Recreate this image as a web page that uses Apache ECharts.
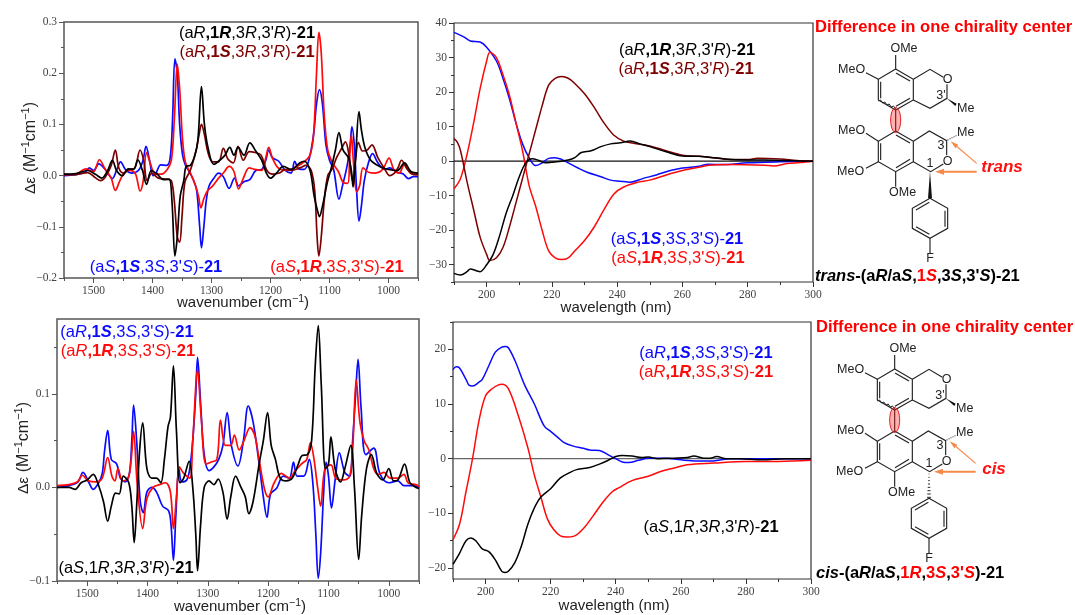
<!DOCTYPE html>
<html>
<head>
<meta charset="utf-8">
<script src="https://cdn.jsdelivr.net/npm/echarts@6/dist/echarts.min.js"></script>
<style>html,body{margin:0;padding:0;background:#fff}#c{width:1075px;height:615px}</style>
</head>
<body>
<div id="c"></div>
<script>
// ---------- VCD top panel ----------
const vcdTopBlue=[[1550,0],[1530,.002],[1515,.006],[1507,.015],[1500,.01],[1491,.023],[1480,.012],[1473,.0],[1468,-.006],[1461,.01],[1454,.027],[1446,.012],[1436,.005],[1424,.01],[1416,.03],[1411,.057],[1405,.03],[1399,.0],[1395,.002],[1386,.021],[1376,.02],[1370,.035],[1366,.11],[1362,.228],[1358,.2],[1354,.1],[1349,.04],[1344,.02],[1338,.008],[1330,-.01],[1325,-.03],[1320,-.1],[1317,-.141],[1313,-.1],[1309,-.05],[1304,-.02],[1296,-.005],[1288,.005],[1280,-.002],[1270,-.025],[1261,-.005],[1254,-.02],[1245,-.012],[1235,-.008],[1225,.01],[1215,.012],[1208,.03],[1203,.05],[1197,.035],[1186,.028],[1175,.01],[1165,.005],[1159,.028],[1152,.013],[1143,.012],[1135,.03],[1127,.08],[1122,.14],[1117,.168],[1112,.14],[1106,.06],[1100,.03],[1093,.012],[1084,-.046],[1078,-.02],[1070,.02],[1065,.06],[1062,.095],[1058,.06],[1054,-.03],[1050,-.089],[1046,-.06],[1041,-.01],[1034,.025],[1027,.043],[1018,.025],[1006,.012],[998,.015],[986,.007],[975,.003],[966,-.006],[958,-.002],[950,-.002]];
const vcdTopRed=[[1550,.002],[1530,.003],[1513,.013],[1500,.008],[1490,.031],[1480,.012],[1470,-.005],[1463,-.029],[1456,-.012],[1448,.006],[1438,.01],[1429,.004],[1421,-.03],[1416,-.012],[1410,.045],[1404,.025],[1396,.004],[1385,.003],[1375,.012],[1368,.03],[1363,.11],[1358,.218],[1354,.17],[1349,.07],[1344,.025],[1335,.003],[1327,-.02],[1322,-.04],[1318,-.063],[1313,-.045],[1307,-.03],[1298,-.02],[1288,-.005],[1280,.005],[1270,.018],[1262,.008],[1254,-.026],[1246,-.005],[1236,.015],[1226,.012],[1215,.01],[1208,.035],[1203,.055],[1197,.035],[1187,.015],[1172,.01],[1155,.018],[1142,.028],[1133,.04],[1127,.08],[1122,.2],[1118,.28],[1114,.24],[1109,.12],[1103,.05],[1095,.025],[1085,.008],[1076,-.014],[1069,-.015],[1066,.03],[1063,.08],[1059,.02],[1054,-.032],[1049,-.02],[1043,.015],[1033,.006],[1022,.005],[1010,.012],[999,.034],[991,.012],[982,.005],[973,.022],[963,.005],[950,.002]];
const vcdTopDark=[[1550,.002],[1530,.002],[1510,.006],[1497,-.004],[1488,-.01],[1480,-.003],[1470,.02],[1463,.05],[1457,.015],[1449,.005],[1440,.012],[1430,.015],[1421,.05],[1415,.03],[1409,-.01],[1401,.005],[1390,-.005],[1375,-.007],[1368,-.01],[1363,-.05],[1358,-.12],[1354,-.13],[1350,-.08],[1345,-.012],[1336,.01],[1326,.05],[1321,.08],[1317,.1],[1312,.08],[1306,.045],[1298,.027],[1288,.027],[1280,.053],[1272,.032],[1263,.025],[1255,.057],[1246,.03],[1236,.047],[1226,.045],[1216,.04],[1206,.01],[1196,.003],[1185,.005],[1175,.012],[1165,.01],[1150,.015],[1140,.02],[1131,.01],[1125,-.03],[1121,-.12],[1118,-.157],[1114,-.12],[1109,-.05],[1103,.0],[1096,.012],[1088,.035],[1080,.052],[1073,.066],[1067,.04],[1061,-.01],[1056,.03],[1051,.065],[1044,.048],[1036,.05],[1028,.06],[1018,.035],[1006,.012],[998,.0],[990,.005],[984,.015],[978,.03],[968,.012],[957,.002],[950,.002]];
const vcdTopBlack=[[1550,.003],[1530,.004],[1510,.01],[1496,.002],[1486,-.005],[1476,.01],[1468,.03],[1461,.01],[1451,.0],[1441,.013],[1432,.012],[1425,.031],[1417,.01],[1410,-.017],[1402,.01],[1392,.003],[1381,-.008],[1372,-.007],[1367,-.05],[1362,-.157],[1358,-.12],[1353,-.04],[1347,-.01],[1343,.018],[1336,.02],[1328,.04],[1323,.07],[1317,.174],[1312,.1],[1306,.055],[1296,.022],[1286,.03],[1277,.04],[1269,.055],[1262,.04],[1255,.055],[1245,.04],[1235,.064],[1225,.048],[1215,.03],[1207,.005],[1200,-.005],[1190,.005],[1178,.018],[1165,.012],[1150,.025],[1143,.028],[1133,.01],[1126,-.04],[1120,-.07],[1117,-.08],[1112,-.06],[1104,-.015],[1097,.015],[1090,.05],[1084,.084],[1077,.05],[1068,.035],[1063,.01],[1060,-.022],[1056,.03],[1050,.125],[1046,.09],[1040,.055],[1030,.03],[1015,.018],[1000,.012],[985,.01],[973,.025],[962,.008],[950,.005]];
// ---------- VCD bottom panel ----------
const vcdBotBlue=[[1550,0],[1530,.002],[1515,.006],[1507,.016],[1497,.005],[1490,-.002],[1481,.005],[1475,.015],[1471,.04],[1466,.061],[1460,.03],[1451,.025],[1445,.01],[1437,.006],[1430,.015],[1426,.05],[1423,.088],[1418,.05],[1412,-.015],[1407,-.027],[1401,-.005],[1393,0],[1385,-.005],[1375,-.02],[1365,-.025],[1361,-.04],[1357,-.078],[1353,-.03],[1348,.02],[1343,.006],[1335,.008],[1330,.02],[1325,.05],[1320,.1],[1317,.139],[1312,.09],[1306,.035],[1298,.018],[1290,.022],[1282,.03],[1275,.045],[1268,.08],[1261,.045],[1250,.023],[1241,.05],[1233,.087],[1225,.07],[1216,.03],[1208,-.01],[1202,-.032],[1196,-.007],[1186,-.001],[1175,.012],[1165,.01],[1158,.027],[1152,.012],[1141,.012],[1132,.03],[1126,.005],[1121,-.05],[1117,-.097],[1113,-.07],[1108,-.005],[1104,.027],[1100,.012],[1095,-.022],[1089,.008],[1082,.037],[1073,.016],[1065,.012],[1060,.05],[1055,.1],[1051,.137],[1046,.085],[1038,.035],[1025,.042],[1015,.015],[1000,.005],[985,.007],[975,.002],[960,.002],[950,0]];
const vcdBotRed=[[1550,.002],[1530,.003],[1516,.006],[1508,.013],[1498,.007],[1485,.006],[1475,.01],[1466,.032],[1459,.012],[1454,.007],[1449,.02],[1441,.007],[1432,.01],[1427,.03],[1423,.06],[1417,.003],[1408,-.044],[1401,-.012],[1391,0],[1380,.003],[1370,.005],[1362,-.005],[1357,-.044],[1352,-.01],[1347,.022],[1340,.015],[1330,.01],[1325,.05],[1317,.125],[1311,.075],[1303,.025],[1295,.027],[1285,.03],[1279,.072],[1271,.045],[1262,.045],[1256,.056],[1248,.04],[1240,.05],[1230,.064],[1222,.055],[1215,.03],[1206,-.002],[1200,-.01],[1190,.005],[1178,.015],[1165,.01],[1155,.018],[1145,.025],[1136,.03],[1130,.048],[1124,.03],[1118,0],[1113,-.02],[1106,.02],[1096,.024],[1088,.01],[1075,.008],[1065,.012],[1060,.04],[1054,.115],[1048,.07],[1041,.05],[1033,.04],[1025,.02],[1018,.014],[1008,.016],[998,.01],[985,.01],[975,.014],[968,.005],[955,.003],[950,.001]];
const vcdBotBlack=[[1550,0],[1530,0],[1520,-.002],[1510,.005],[1500,.008],[1490,.014],[1481,.002],[1473,-.015],[1466,-.036],[1460,-.02],[1453,-.006],[1447,-.007],[1440,.012],[1431,.005],[1426,-.02],[1422,-.059],[1418,-.02],[1413,.04],[1408,.069],[1401,.02],[1393,.01],[1385,.01],[1378,.005],[1372,.03],[1366,.065],[1362,.075],[1357,.13],[1352,.06],[1346,.005],[1340,.01],[1331,.028],[1325,0],[1320,-.05],[1317,-.089],[1312,-.04],[1306,0],[1298,.007],[1290,.003],[1283,.009],[1275,-.005],[1268,-.034],[1262,-.01],[1254,.012],[1245,0],[1238,-.01],[1232,-.028],[1225,-.015],[1215,.025],[1208,.05],[1201,.08],[1195,.045],[1188,.03],[1180,.01],[1170,.007],[1160,.01],[1150,.025],[1144,.034],[1135,.035],[1128,.05],[1122,.13],[1117,.173],[1112,.11],[1105,.02],[1100,.025],[1096,.054],[1089,.02],[1080,.006],[1073,.02],[1063,.045],[1057,0],[1050,-.077],[1045,-.03],[1037,.02],[1029,.035],[1020,.015],[1010,.008],[1000,.02],[992,.007],[985,.008],[974,.025],[965,.005],[955,0],[950,-.001]];
// ---------- ECD top panel ----------
const ecdTopBlue=[[190,37.3],[193,36],[195,34.8],[198,34.5],[200,33],[203,29],[205,24],[207,18],[209,11],[211,5],[213,1],[215,-1.3],[217,-.5],[219,.8],[221,1],[223,.5],[225,-.5],[228,-2],[231,-3.3],[235,-4.5],[238,-5.5],[241,-5.8],[244,-6.1],[248,-5],[252,-4],[256,-2.8],[260,-2],[265,-1.5],[268,-.9],[272,-1],[280,-.5],[290,-.2],[300,0]];
const ecdTopRed=[[190,-8],[192,-5],[194,2],[196,11],[198,21],[200,29],[201,31.5],[203,30],[205,25],[207,19],[209,11],[211,3],[213,-7],[215,-13],[217,-20],[219,-26],[221,-28],[223,-28.5],[225,-28],[227,-26],[230,-23],[233,-19],[236,-14],[239,-9.5],[242,-7.5],[246,-6.2],[250,-5.5],[255,-4],[260,-2.7],[265,-1.8],[268,-1.2],[275,-1],[285,-1.2],[288,-1.4],[292,-.7],[296,-.4],[300,0]];
const ecdTopDark=[[190,6.5],[191,5.5],[192,3],[194,-6],[196,-14],[198,-22],[200,-27],[201,-28.8],[203,-28],[205,-25],[207,-19],[209,-12],[211,-5],[213,2],[215,9],[217,16],[219,22],[221,24],[223,24.5],[225,24],[227,22.5],[230,19.5],[233,15.5],[236,11],[239,7.5],[242,5.8],[245,5.2],[250,4.4],[255,3],[260,1.7],[265,1.4],[270,.9],[275,.5],[280,.5],[283,.8],[290,.6],[295,.2],[300,0]];
const ecdTopBlack=[[190,-32.5],[192,-33],[194,-32],[195,-31.2],[197,-31.8],[198,-32],[200,-30],[202,-27],[204,-21.5],[206,-15],[208,-10],[210,-4.5],[212,-.5],[214,.7],[216,.2],[218,-.5],[220,-.3],[222,-.1],[225,.3],[227,1],[229,2.5],[232,3],[235,4.2],[238,5],[241,5.3],[244,5.8],[247,5],[250,4.2],[255,2.7],[260,1.5],[265,1.4],[270,1],[275,.5],[285,.3],[295,.1],[300,0]];
// ---------- ECD bottom panel ----------
const ecdBotBlue=[[190,16.3],[191,16.8],[192,16.6],[194,14.5],[195,13.4],[196,13.3],[198,14],[199,14.5],[201,17],[203,19.5],[205,20.4],[206,20.5],[207,20.3],[209,18],[212,13.5],[215,10],[218,6],[220,5],[222,4],[224,3],[227,2.3],[230,1.9],[232,1.6],[235,1.5],[238,.6],[240,0],[242,-.6],[244,-.7],[247,-.3],[250,.1],[255,.1],[260,-.2],[265,-.4],[270,-.4],[275,0],[285,0],[300,0]];
const ecdBotRed=[[190,-14.8],[192,-12],[194,-6],[196,0],[198,7],[200,11.5],[202,12.8],[204,13.5],[205,13.6],[207,12.8],[210,8],[213,2],[215,-3],[217,-7],[219,-11],[221,-13],[223,-14.1],[225,-14.3],[227,-14.2],[230,-12.8],[233,-10.5],[236,-8],[239,-6],[241,-5.3],[245,-4],[250,-3.2],[254,-2.3],[258,-1.7],[262,-1.1],[270,-.8],[280,-.5],[290,-.5],[300,-.3]];
const ecdBotBlack=[[190,-19.3],[192,-17.3],[194,-15],[195.5,-14.5],[197,-15],[199,-16.5],[201,-17],[203,-18.5],[205,-20.6],[206,-20.8],[207,-20.6],[209,-19],[211,-16],[213,-12],[215,-9],[217,-7],[220,-5.5],[223,-3.5],[226,-2.5],[228,-2],[232,-1.6],[235,-1],[238,-.2],[240,.4],[242,.6],[245,.5],[248,.2],[250,.3],[253,0],[258,.1],[262,.2],[264,.5],[267,.1],[269,.1],[271,.4],[274,0],[278,0],[285,-.2],[292,0],[300,0]];
const zeroLine=[[190,0],[300,0]];
// ---------- tick lists ----------
const vcdXMajor=[1500,1400,1300,1200,1100,1000];
const vcdXMinor=[1550,1450,1350,1250,1150,1050,950];
const ecdXMajor=[200,220,240,260,280,300];
const ecdXMinor=[190,210,230,250,270,290];
const topVcdYMajor=[-.2,-.1,0,.1,.2,.3];
const topVcdYMinor=[-.15,-.05,.05,.15,.25];
const botVcdYMajor=[-.1,0,.1];
const botVcdYMinor=[-.05,.05,.15];
const topEcdYMajor=[-30,-20,-10,0,10,20,30,40];
const topEcdYMinor=[-35,-25,-15,-5,5,15,25,35];
const botEcdYMajor=[-20,-10,0,10,20];
const botEcdYMinor=[-15,-5,5,15,25];

const BLUE='#0a0aff',RED='#ff0a0a',DARK='#7d0000',BLACK='#000000';
const TICK='#444444';
const serif='"Liberation Serif"',sans='"Liberation Sans"';

const panels=[
 {grid:[64,22,354,256],x:[1550,950],y:[-.2,.3],xM:vcdXMajor,xm:vcdXMinor,yM:topVcdYMajor,ym:topVcdYMinor,fy:1,frame:'#555555',fw:1.5,
  s:[[vcdTopBlue,BLUE],[vcdTopRed,RED],[vcdTopDark,DARK],[vcdTopBlack,BLACK]],lw:1.7},
 {grid:[454,23,359,259],x:[190,300],y:[-35,40],xM:ecdXMajor,xm:ecdXMinor,yM:topEcdYMajor,ym:topEcdYMinor,fy:0,zero:'#111111',frame:'#333333',fw:1.2,
  s:[[ecdTopBlue,BLUE],[ecdTopRed,RED],[ecdTopDark,DARK],[ecdTopBlack,BLACK]],lw:1.5},
 {grid:[57,319,362,262],x:[1550,950],y:[-.1,.18],xM:vcdXMajor,xm:vcdXMinor,yM:botVcdYMajor,ym:botVcdYMinor,fy:1,frame:'#555555',fw:1.5,
  s:[[vcdBotBlue,BLUE],[vcdBotRed,RED],[vcdBotBlack,BLACK]],lw:1.7},
 {grid:[453,322,358,257],x:[190,300],y:[-22,25],xM:ecdXMajor,xm:ecdXMinor,yM:botEcdYMajor,ym:botEcdYMinor,fy:0,zero:'#666666',frame:'#333333',fw:1.2,
  s:[[ecdBotBlue,BLUE],[ecdBotRed,RED],[ecdBotBlack,BLACK]],lw:1.5}
];

const grids=[],xAxes=[],yAxes=[],series=[];
panels.forEach((p,i)=>{
  grids.push({left:p.grid[0],top:p.grid[1],width:p.grid[2],height:p.grid[3],show:true,borderColor:p.frame,borderWidth:p.fw,backgroundColor:'transparent'});
  const inv=p.x[0]>p.x[1];
  const base={gridIndex:i,type:'value',splitLine:{show:false},axisLine:{show:false,onZero:false}};
  const xmin=Math.min(...p.x),xmax=Math.max(...p.x);
  const ylab=v=>{ if(p.fy){const s=Math.abs(v).toFixed(1);return v<-1e-9?'\u2212'+s:s;} return v<0?'\u2212'+Math.abs(v):String(v); };
  xAxes.push({...base,min:xmin,max:xmax,inverse:inv,position:'bottom',
    axisTick:{show:true,length:5,customValues:p.xM,lineStyle:{color:p.frame,width:1}},
    axisLabel:{show:true,customValues:p.xM,margin:7,fontFamily:serif,fontSize:11.5,color:TICK,formatter:v=>String(v),showMinLabel:true,showMaxLabel:true}});
  xAxes.push({...base,min:xmin,max:xmax,inverse:inv,position:'bottom',
    axisTick:{show:true,length:3,customValues:p.xm,lineStyle:{color:p.frame,width:1}},axisLabel:{show:false}});
  yAxes.push({...base,min:p.y[0],max:p.y[1],position:'left',
    axisTick:{show:true,length:5,customValues:p.yM,lineStyle:{color:p.frame,width:1}},
    axisLabel:{show:true,customValues:p.yM,margin:7,fontFamily:serif,fontSize:11.5,color:TICK,formatter:ylab,showMinLabel:true,showMaxLabel:true}});
  yAxes.push({...base,min:p.y[0],max:p.y[1],position:'left',
    axisTick:{show:true,length:3,customValues:p.ym,lineStyle:{color:p.frame,width:1}},axisLabel:{show:false}});
  if(p.zero) series.push({type:'line',data:zeroLine,xAxisIndex:i*2,yAxisIndex:i*2,symbol:'none',silent:true,lineStyle:{color:p.zero,width:1.2}});
  p.s.forEach(([d,c])=>series.push({type:'line',data:d,xAxisIndex:i*2,yAxisIndex:i*2,symbol:'none',smooth:.35,animation:false,lineStyle:{color:c,width:p.lw},clip:true}));
});

// ---------- text helpers ----------
function richText(tokens,size,color,family){
  const rich={};let out='';
  tokens.forEach((t,k)=>{
    const name='t'+k;
    rich[name]={fontFamily:family||sans,fontSize:t.size||size,fontWeight:t.b?'bold':'normal',fontStyle:t.i?'italic':'normal',fill:t.c||color,color:t.c||color,verticalAlign:t.v||'middle',lineHeight:t.lh||size*1.3};
    out+='{'+name+'|'+t.t+'}';
  });
  return {text:out,rich};
}
function stereoLabel(a,one,three,c,boldOne,cx,cy){
  const T=(t,o)=>Object.assign({t},o||{});
  const toks=[T('(a'),T(a,{i:1}),T(',',{b:boldOne})];
  toks.push(T('1',{b:boldOne}),T(one,{i:1,b:boldOne}),T(',3'),T(three,{i:1}),T(",3'"),T(three,{i:1}),T(')-'),T('21',{b:1}));
  const r=richText(toks,16.5,c);
  return {type:'text',x:cx,y:cy,z:50,style:{text:r.text,rich:r.rich,align:'center',verticalAlign:'middle',fill:c}};
}
function plainText(txt,x,y,o){
  return {type:'text',x,y,z:50,rotation:o.rot||0,style:{text:txt,align:o.align||'center',verticalAlign:'middle',fontFamily:o.family||sans,fontSize:o.size||15,fontWeight:o.w||'normal',fontStyle:o.st||'normal',fill:o.c||'#222'}};
}
function axisName(main,x,y){
  const r=richText([{t:main},{t:'cm'},{t:'\u22121',size:10.5,v:'top',lh:19},{t:')'}],15,'#222');
  return {type:'text',x,y,z:50,style:{text:r.text,rich:r.rich,align:'center',verticalAlign:'middle',fill:'#222'}};
}
function yName(x,y){
  const r=richText([{t:'\u0394\u03b5',size:15.5},{t:' (M'},{t:'\u22121',size:11,v:'top',lh:20},{t:'cm'},{t:'\u22121',size:11,v:'top',lh:20},{t:')'}],16,'#222');
  return {type:'text',x,y,z:50,rotation:Math.PI/2,style:{text:r.text,rich:r.rich,align:'center',verticalAlign:'middle',fill:'#222'}};
}

// ---------- molecule decoration (line art in local units) ----------
function molecule(kind,dy,dx){
  const X=v=>810+dx+v/3,Y=v=>v/3+dy,G=[];
  const line=(a,b,c,d,w,col)=>G.push({type:'line',z:40,shape:{x1:X(a),y1:Y(b),x2:X(c),y2:Y(d)},style:{stroke:col||'#222',lineWidth:w||1.15}});
  const path=(pts,w)=>G.push({type:'polyline',z:40,shape:{points:pts.map(p=>[X(p[0]),Y(p[1])])},style:{stroke:'#222',lineWidth:w||1.15,fill:'none'}});
  const solid=(pts,col)=>G.push({type:'polygon',z:41,shape:{points:pts.map(p=>[X(p[0]),Y(p[1])])},style:{fill:col||'#111'}});
  const atom=(t,x,y,a)=>G.push({type:'text',z:45,x:X(x),y:Y(y),style:{text:t,align:a||'center',verticalAlign:'middle',fontFamily:sans,fontSize:12.5,fill:'#222',backgroundColor:'transparent'}});
  // upper unit
  path([[257,207],[310,238],[310,300],[257,330],[205,300],[205,238],[257,207]]);
  line(212,245,212,295);line(258,219,300,243);line(300,295,258,319);
  path([[310,238],[360,208],[400,232]]);path([[411,253],[411,295],[360,325],[310,300]]);
  solid([[410,295],[440,311],[436,318]]);
  line(257,207,257,165);line(205,238,168,218);
  atom('OMe',282,147);atom('MeO',125,208);atom('O',413,238);atom('Me',467,327);atom("3'",393,288);
  // biaryl axis
  const wav=[];for(let i=0;i<=8;i++)wav.push([205+i*6.5,300+i*3+(i%2?-3:3)]);path(wav,1);
  line(257,330,257,393);
  // lower unit
  path([[257,393],[310,424],[310,485],[257,515],[205,485],[205,424],[257,393]]);
  line(212,430,212,480);line(258,405,300,429);line(300,478,258,503);
  path([[310,424],[358,393],[410,422],[410,466]]);path([[400,492],[362,515],[310,485]]);
  for(let i=0;i<5;i++){line(414+i*6,420-i*3-2,414+i*6,420-i*3+1,1);}
  line(205,424,168,400);line(205,485,168,505);line(257,515,257,560);
  atom('MeO',125,392);atom('MeO',122,515);atom('OMe',278,578);atom('O',413,485);atom('Me',467,398);atom('3',393,438);atom('1',360,490);
  if(kind==='trans') solid([[360,515],[354,595],[366,595]]);
  else for(let i=0;i<8;i++){const w=1+i*.7;line(360-w,522+i*10,360+w,522+i*10,1);}
  path([[360,595],[413,625],[413,685],[360,715],[307,685],[307,625],[360,595]]);
  line(405,632,405,680);line(318,680,358,703);line(318,630,358,607);
  line(360,715,360,760);atom('F',360,775);
  // red ellipse
  G.push({type:'ellipse',z:46,shape:{cx:X(257),cy:Y(360),rx:5,ry:12.5},style:{fill:'rgba(255,30,30,.35)',stroke:'#e02020',lineWidth:1}});
  // orange arrows
  const ORANGE='#f58a4a';
  line(500,490,432,432,1.2,ORANGE);
  solid([[422,424],[445,434],[436,445]],ORANGE);
  line(500,515,395,515,2,ORANGE);
  solid([[375,515],[402,506],[402,524]],ORANGE);
  return G;
}
function caption(tokens,x,y){
  const r=richText(tokens.map(t=>Object.assign({b:1},t)),16.5,'#000');
  return {type:'text',x,y,z:50,style:{text:r.text,rich:r.rich,align:'left',verticalAlign:'middle',fill:'#000'}};
}

const graphics=[
 stereoLabel('R','R','R',BLACK,1,247,33),
 stereoLabel('R','S','R',DARK,1,247,52),
 stereoLabel('S','S','S',BLUE,1,156,267),
 stereoLabel('S','R','S',RED,1,337,267),
 stereoLabel('R','R','R',BLACK,1,687,50),
 stereoLabel('R','S','R',DARK,1,686,69),
 stereoLabel('S','S','S',BLUE,1,677,239),
 stereoLabel('S','R','S',RED,1,678,258),
 stereoLabel('R','S','S',BLUE,1,127,332),
 stereoLabel('R','R','S',RED,1,128,351),
 stereoLabel('S','R','R',BLACK,0,126,568),
 stereoLabel('R','S','S',BLUE,1,706,353),
 stereoLabel('R','R','S',RED,1,706,372),
 stereoLabel('S','R','R',BLACK,0,711,527),
 axisName('wavenumber (',243,303),
 axisName('wavenumber (',240,607),
 plainText('wavelength (nm)',616,308,{}),
 plainText('wavelength (nm)',614,606,{}),
 yName(31,148),
 yName(24,448),
 plainText('Difference in one chirality center',815,27,{align:'left',size:16.6,w:'bold',c:'#ff0000'}),
 plainText('Difference in one chirality center',816,327,{align:'left',size:16.6,w:'bold',c:'#ff0000'}),
 plainText('trans',1002,167,{size:17,w:'bold',st:'italic',c:'#ff1010'}),
 plainText('cis',994,469,{size:17,w:'bold',st:'italic',c:'#ff1010'}),
 caption([{t:'trans',i:1},{t:'-(a'},{t:'R',i:1},{t:'/a'},{t:'S',i:1},{t:','},{t:'1',c:'#ff0000'},{t:'S',i:1,c:'#ff0000'},{t:',3'},{t:'S',i:1},{t:",3'"},{t:'S',i:1},{t:')-21'}],815,276),
 caption([{t:'cis',i:1},{t:'-(a'},{t:'R',i:1},{t:'/a'},{t:'S',i:1},{t:','},{t:'1',c:'#ff0000'},{t:'R',i:1,c:'#ff0000'},{t:','},{t:'3',c:'#ff0000'},{t:'S',i:1,c:'#ff0000'},{t:','},{t:"3'",c:'#ff0000'},{t:'S',i:1,c:'#ff0000'},{t:')-21'}],816,573),
 ...molecule('trans',0,0),
 ...molecule('cis',300,-1)
];

const chart=echarts.init(document.getElementById('c'),null,{renderer:'canvas'});
chart.setOption({animation:false,backgroundColor:'#ffffff',grid:grids,xAxis:xAxes,yAxis:yAxes,series,graphic:{elements:graphics}});
</script>
</body>
</html>
